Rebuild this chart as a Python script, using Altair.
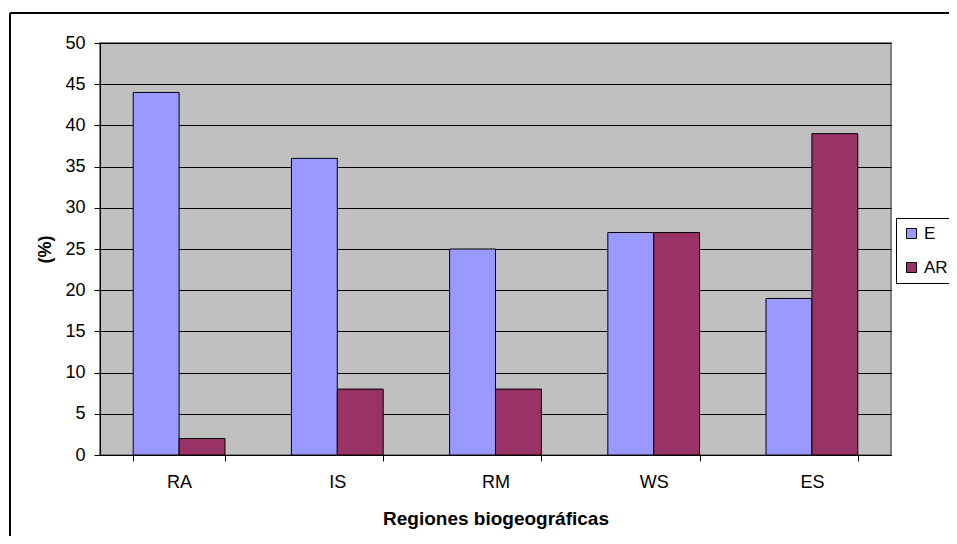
import altair as alt
import pandas as pd

categories = ["RA", "IS", "RM", "WS", "ES"]
series_names = ["E", "AR"]
values_E = [44, 36, 25, 27, 19]
values_AR = [2, 8, 8, 27, 39]
y_ticks = list(range(0, 51, 5))
colors = ["#9999FF", "#993366"]

rows = []
for c, e, a in zip(categories, values_E, values_AR):
    rows.append({"region": c, "serie": "E", "value": e})
    rows.append({"region": c, "serie": "AR", "value": a})
df = pd.DataFrame(rows)

FONT = "Liberation Sans"

bars = alt.Chart(df).mark_bar(stroke="black", strokeWidth=1).encode(
    x=alt.X(
        "region:N",
        sort=categories,
        scale=alt.Scale(paddingInner=0.42, paddingOuter=0.21),
        axis=alt.Axis(
            title="Regiones biogeográficas",
            labelAngle=0,
            tickBand="extent",
            tickSize=6,
            tickColor="black",
            domainColor="black",
            labelPadding=12,
            labelFontSize=18,
            labelColor="black",
            titleFontSize=19,
            titleFontWeight="bold",
            titlePadding=18,
            titleColor="black",
        ),
    ),
    xOffset=alt.XOffset("serie:N", sort=series_names,
                        scale=alt.Scale(paddingInner=0, paddingOuter=0)),
    y=alt.Y(
        "value:Q",
        scale=alt.Scale(domain=[0, 50], nice=False),
        axis=alt.Axis(
            title="(%)",
            values=y_ticks,
            tickSize=6,
            tickColor="black",
            domainColor="black",
            gridColor="black",
            gridOpacity=1,
            labelPadding=9,
            labelFontSize=18,
            labelColor="black",
            titleFontSize=18,
            titleFontWeight="bold",
            titlePadding=10,
            titleColor="black",
        ),
    ),
    color=alt.Color(
        "serie:N",
        sort=series_names,
        scale=alt.Scale(domain=series_names, range=colors),
        legend=alt.Legend(
            title=None,
            orient="none",
            legendX=796,
            legendY=175,
            symbolType="square",
            symbolSize=100,
            symbolStrokeColor="black",
            symbolStrokeWidth=1,
            symbolOpacity=1,
            labelFontSize=17,
            labelColor="black",
            labelOffset=4,
            rowPadding=16,
            padding=7,
            strokeColor="black",
            fillColor="white",
            cornerRadius=0,
        ),
    ),
)

frame_left = alt.Chart(df).mark_rule(color="black", strokeWidth=2).encode(
    x=alt.value(-90), y=alt.value(-30), y2=alt.value(700)
)
frame_top = alt.Chart(df).mark_rule(color="black", strokeWidth=2).encode(
    x=alt.value(-90), x2=alt.value(1200), y=alt.value(-30)
)

chart = alt.layer(bars, frame_left, frame_top).properties(
    width=791,
    height=412,
    autosize=alt.AutoSizeParams(type="none"),
    padding={"left": 92, "top": 35, "right": 58, "bottom": 81},
).configure(
    font=FONT,
    background="white",
    view=alt.ViewConfig(fill="#C0C0C0", stroke="#808080", strokeWidth=2),
)

chart.save("out.html", embed_options={"renderer": "svg", "actions": False})
